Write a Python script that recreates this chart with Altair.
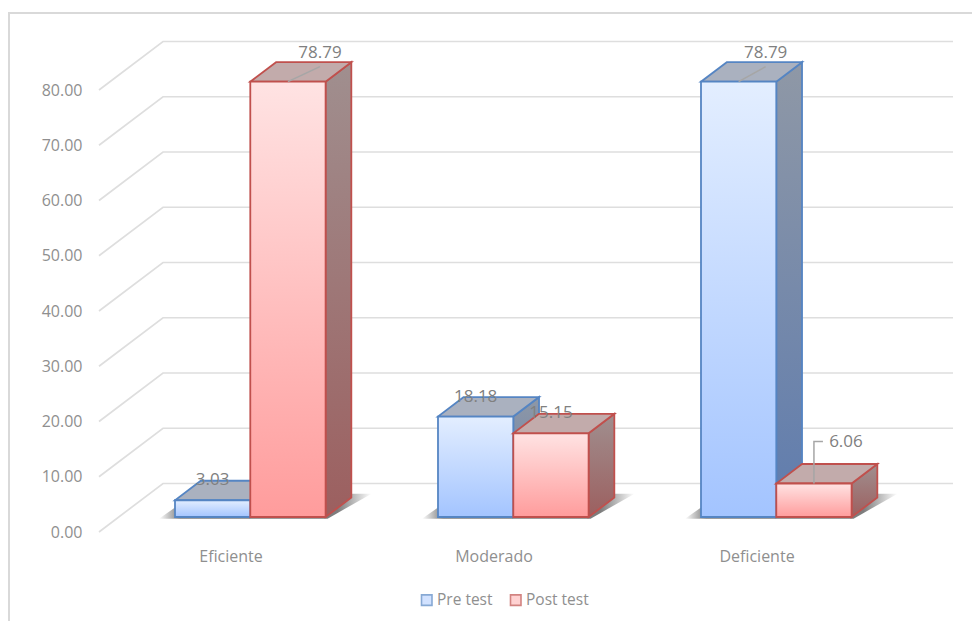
import altair as alt
import pandas as pd

categories = ["Eficiente", "Moderado", "Deficiente"]
series_names = ["Pre test", "Post test"]
pre_values = [3.03, 18.18, 78.79]
post_values = [78.79, 15.15, 6.06]
tick_values = [0, 10, 20, 30, 40, 50, 60, 70, 80]

PX_X, PX_Y = 263.0, 442 / 80
DX, DY = 64 / PX_X, 48.5 / PX_Y          # floor depth, in axis units
D0, D1 = 15 / 48.5, 34.5 / 48.5          # where the bars stand on the floor
BW = 75.3 / PX_X
FONT = "Open Sans"
TXT = "#8f8f8f"


def grad(c0, c1, horizontal=False, stops=None):
    s = stops or [{"offset": 0, "color": c0}, {"offset": 1, "color": c1}]
    return {"gradient": "linear", "x1": 0, "y1": 0,
            "x2": 1 if horizontal else 0, "y2": 0 if horizontal else 1, "stops": s}


sx = alt.Scale(domain=[-0.5, 2.5], nice=False, zero=False)
sy = alt.Scale(domain=[0, 80], nice=False, zero=False)
x_axis = alt.Axis(
    values=[0, 1, 2],
    labelExpr="datum.value == 0 ? 'Eficiente' : datum.value == 1 ? 'Moderado' : 'Deficiente'",
    domain=False, ticks=False, grid=False, labelFont=FONT, labelFontSize=16, labelColor=TXT, labelPadding=16)
y_axis = alt.Axis(
    values=tick_values, format=".2f", domain=False, ticks=False, grid=False,
    labelFont=FONT, labelFontSize=16, labelColor=TXT, labelPadding=17, labelOffset=0)
X = alt.X("x:Q", scale=sx, title=None, axis=x_axis)
Y = alt.Y("y:Q", scale=sy, title=None, axis=y_axis)

# gridlines running up the side wall and along the back wall
grid_rows = []
for v in tick_values:
    grid_rows += [{"level": v, "i": 0, "x": -0.5, "y": v},
                  {"level": v, "i": 1, "x": -0.5 + DX, "y": v + DY},
                  {"level": v, "i": 2, "x": 2.5 + DX + 1 / PX_X, "y": v + DY}]
grid = alt.Chart(pd.DataFrame(grid_rows)).mark_line(color="#dedede", strokeWidth=1.7).encode(
    x=X, y=Y, detail="level:N", order="i:Q")

# floor shadows
shadow_rows = []
for i in range(3):
    shadow_rows += [
        {"c": i, "y": D0 * DY - 0.3, "x": i - BW - 16 / PX_X + D0 * DX, "x2": i + BW + 2 / PX_X + D0 * DX},
        {"c": i, "y": D1 * DY + 0.7, "x": i - BW + 20 / PX_X + D0 * DX, "x2": i + BW + 46 / PX_X + D0 * DX},
    ]
shadow = alt.Chart(pd.DataFrame(shadow_rows)).mark_area(
    orient="horizontal",
    fill=grad(None, None, True, [
        {"offset": 0, "color": "rgba(70,70,70,0)"},
        {"offset": 0.1, "color": "rgba(70,70,70,0.7)"},
        {"offset": 0.84, "color": "rgba(70,70,70,0.7)"},
        {"offset": 1, "color": "rgba(70,70,70,0)"}]),
).encode(y=Y, x=X, x2="x2:Q", detail="c:N")


def faces(values, side, line, front, side_fill, top_fill):
    s0 = -BW if side == 0 else 0.0
    front_rows, side_rows, top_rows = [], [], []
    for i, v in enumerate(values):
        x0 = i + s0 + D0 * DX
        x1 = x0 + BW
        d = (D1 - D0)
        y_low, y_top = D0 * DY, v + D0 * DY
        front_rows.append({"x": x0, "x2": x1, "y": y_low, "y2": y_top})
        side_rows += [{"c": i, "x": x1, "y": y_low, "y2": y_top},
                      {"c": i, "x": x1 + d * DX, "y": y_low + d * DY, "y2": y_top + d * DY}]
        top_rows += [{"c": i, "y": y_top, "x": x0, "x2": x1},
                     {"c": i, "y": y_top + d * DY, "x": x0 + d * DX, "x2": x1 + d * DX}]
    stroke = {"stroke": line, "strokeWidth": 1.8, "strokeJoin": "miter"}
    return [
        alt.Chart(pd.DataFrame(side_rows)).mark_area(fill=side_fill, **stroke).encode(
            x=X, y=Y, y2="y2:Q", detail="c:N"),
        alt.Chart(pd.DataFrame(top_rows)).mark_area(orient="horizontal", fill=top_fill, **stroke).encode(
            y=Y, x=X, x2="x2:Q", detail="c:N"),
        alt.Chart(pd.DataFrame(front_rows)).mark_rect(fill=front, **stroke).encode(
            x=X, x2="x2:Q", y=Y, y2="y2:Q"),
    ]


pre_layers = faces(pre_values, 0, "#5585c3", grad("#e3eeff", "#a3c4ff"),
                   grad("#8f98a6", "#5f7cae"), "#aab1bf")
post_layers = faces(post_values, 1, "#c0504d", grad("#ffe3e3", "#ff9c9c"),
                    grad("#a08f8f", "#9c5f5f"), "#c2abab")

# value labels: shift from the centre of the bar's front top edge, in pixels
label_rows = []
shifts_pre = [(0, 20), (0, 20), (27, 29)]
shifts_post = [(32, 29), (0, 20), (32, 42)]
for side, vals, shifts in [(0, pre_values, shifts_pre), (1, post_values, shifts_post)]:
    for i, (v, (dx, dy)) in enumerate(zip(vals, shifts)):
        cx = i + (-BW / 2 if side == 0 else BW / 2) + D0 * DX
        label_rows.append({"x": cx + dx / PX_X, "y": v + D0 * DY + dy / PX_Y, "t": f"{v:.2f}"})
labels = alt.Chart(pd.DataFrame(label_rows)).mark_text(
    font=FONT, fontSize=17, color="#808080", align="center", baseline="middle"
).encode(x=X, y=Y, text="t:N")

# leader lines of the three displaced labels
leaders = []
for name, i, side, v, pts in [
    ("a", 0, 1, post_values[0], [(0, 0), (32, 15)]),
    ("b", 2, 0, pre_values[2], [(0, 0), (27, 15)]),
    ("c", 2, 1, post_values[2], [(0, 0), (0, 42), (9, 42)]),
]:
    cx = i + (-BW / 2 if side == 0 else BW / 2) + D0 * DX
    for k, (dx, dy) in enumerate(pts):
        leaders.append({"n": name, "i": k, "x": cx + dx / PX_X, "y": v + D0 * DY + dy / PX_Y})
leader = alt.Chart(pd.DataFrame(leaders)).mark_line(color="#a6a6a6", strokeWidth=1.5).encode(
    x=X, y=Y, detail="n:N", order="i:Q")

# legend
legend_df = pd.DataFrame({"s": series_names, "x": [0, 0], "y": [0, 0]})
legend_scale_fill = alt.Scale(domain=series_names, range=["#c0d6ff", "#ffc0c0"])
legend_scale_stroke = alt.Scale(domain=series_names, range=["#5585c3", "#c0504d"])
legend_def = alt.Legend(title=None, orient="none", legendX=320, legendY=502, direction="horizontal",
                        symbolType="square", symbolSize=110, symbolStrokeWidth=1.6,
                        labelFont=FONT, labelFontSize=15.5, labelColor=TXT, columnPadding=14, labelOffset=2.5)
legend = alt.Chart(legend_df).mark_point(filled=True, size=0).encode(
    x=X, y=Y,
    fill=alt.Fill("s:N", scale=legend_scale_fill, sort=series_names, legend=legend_def),
    stroke=alt.Stroke("s:N", scale=legend_scale_stroke, sort=series_names, legend=legend_def),
)

# chart frame (left and top edges are all that the window shows)
frame_left = alt.Chart(legend_df).mark_rule(color="#d9d9d9", strokeWidth=2).encode(
    x=alt.value(-90), y=alt.value(-78), y2=alt.value(531))
frame_top = alt.Chart(legend_df).mark_rule(color="#d9d9d9", strokeWidth=2).encode(
    x=alt.value(-91), x2=alt.value(881), y=alt.value(-77))

chart = alt.layer(
    frame_left, frame_top, grid, shadow, *pre_layers, *post_layers, leader, labels, legend
).properties(
    width=789, height=442,
    autosize=alt.AutoSizeParams(type="none"),
    padding={"left": 91, "top": 82, "right": 84, "bottom": 89},
    background="white",
).configure_view(stroke=None)

chart.save("out.html", embed_options={"renderer": "svg", "actions": False})
